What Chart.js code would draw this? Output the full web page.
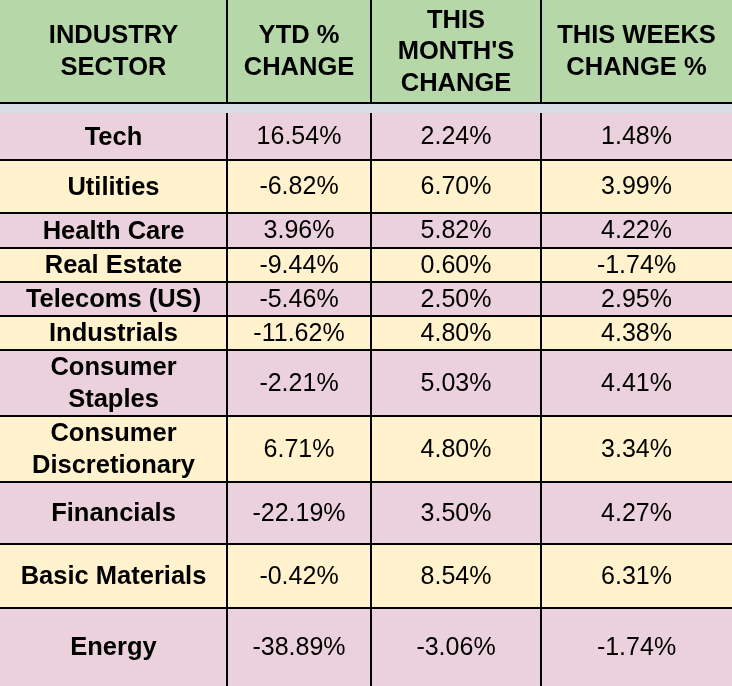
<!DOCTYPE html>
<html>
<head>
<meta charset="utf-8">
<script src="https://cdn.jsdelivr.net/npm/chart.js@4"></script>
<style>
    html, body { margin: 0; padding: 0; background: #ffffff; }
    #sectorTable { display: block; }
</style>
</head>
<body>
<canvas id="sectorTable" width="732" height="686"></canvas>
<script>
// table content
const headers = ['INDUSTRY\nSECTOR', 'YTD %\nCHANGE', "THIS\nMONTH'S\nCHANGE", 'THIS WEEKS\nCHANGE %'];
const sectors = [
    'Tech', 'Utilities', 'Health Care', 'Real Estate', 'Telecoms (US)', 'Industrials',
    'Consumer\nStaples', 'Consumer\nDiscretionary', 'Financials', 'Basic Materials', 'Energy'
];
const ytdChange = [16.54, -6.82, 3.96, -9.44, -5.46, -11.62, -2.21, 6.71, -22.19, -0.42, -38.89];
const monthChange = [2.24, 6.70, 5.82, 0.60, 2.50, 4.80, 5.03, 4.80, 3.50, 8.54, -3.06];
const weekChange = [1.48, 3.99, 4.22, -1.74, 2.95, 4.38, 4.41, 3.34, 4.27, 6.31, -1.74];

// layout (table units)
const colEdges = [0, 227, 371, 541, 732];
const headerBottom = 104;
const rowEdges = [113, 160, 213, 248, 282, 316, 350, 416, 482, 544, 608, 686];

const colors = {
    header: '#b6d7a8',
    band: '#d9dde6',
    pink: '#ead1dc',
    yellow: '#fff2cc',
    line: '#000000',
    text: '#000000'
};

const fontFamily = "'Liberation Sans', Arial, sans-serif";
const boldSize = 25.5;
const plainSize = 25;
const lineHeight = 31.5;

const formatPct = (v) => v.toFixed(2) + '%';

const drawLines = (ctx, text, cx, cy, bold) => {
    const lines = text.split('\n');
    const size = bold ? boldSize : plainSize;
    ctx.font = `${bold ? 'bold ' : ''}${size}px ${fontFamily}`;
    ctx.textAlign = 'center';
    ctx.textBaseline = 'alphabetic';
    ctx.fillStyle = colors.text;
    const cap = size * 0.716;
    const blockH = (lines.length - 1) * lineHeight + cap;
    const firstBase = cy - blockH / 2 + cap;
    lines.forEach((line, i) => {
        ctx.fillText(line, cx, firstBase + i * lineHeight);
    });
};

const tablePlugin = {
    id: 'tableCells',
    afterDraw(chart) {
        const { ctx } = chart;
        const x = chart.scales.x;
        const y = chart.scales.y;
        const px = (v) => x.getPixelForValue(v);
        const py = (v) => y.getPixelForValue(v);
        const left = px(colEdges[0]);
        const right = px(colEdges[colEdges.length - 1]);

        ctx.save();

        // header row
        ctx.fillStyle = colors.header;
        ctx.fillRect(left, py(0), right - left, py(headerBottom) - py(0));
        // thin band below header
        ctx.fillStyle = colors.band;
        ctx.fillRect(left, py(headerBottom), right - left, py(rowEdges[0]) - py(headerBottom));

        // body rows
        const rows = sectors.map((name, i) => [name, formatPct(ytdChange[i]), formatPct(monthChange[i]), formatPct(weekChange[i])]);
        rows.forEach((row, i) => {
            const top = py(rowEdges[i]);
            const bottom = py(rowEdges[i + 1]);
            ctx.fillStyle = i % 2 === 0 ? colors.pink : colors.yellow;
            ctx.fillRect(left, top, right - left, bottom - top);
        });

        // grid lines
        ctx.strokeStyle = colors.line;
        ctx.lineWidth = 2;
        ctx.beginPath();
        colEdges.slice(1, -1).forEach((c) => {
            ctx.moveTo(px(c), py(0));
            ctx.lineTo(px(c), py(headerBottom - 1));
            ctx.moveTo(px(c), py(rowEdges[0]));
            ctx.lineTo(px(c), py(rowEdges[rowEdges.length - 1]));
        });
        ctx.moveTo(left, py(headerBottom - 1));
        ctx.lineTo(right, py(headerBottom - 1));
        rowEdges.slice(1, -1).forEach((r) => {
            ctx.moveTo(left, py(r));
            ctx.lineTo(right, py(r));
        });
        ctx.stroke();

        // header text
        headers.forEach((h, c) => {
            const cx = (px(colEdges[c]) + px(colEdges[c + 1])) / 2;
            drawLines(ctx, h, cx, py(headerBottom / 2) - 2, true);
        });

        // body text
        rows.forEach((row, i) => {
            const cy = (py(rowEdges[i]) + py(rowEdges[i + 1])) / 2;
            row.forEach((cell, c) => {
                const cx = (px(colEdges[c]) + px(colEdges[c + 1])) / 2;
                drawLines(ctx, cell, cx, cy - 1, c === 0);
            });
        });

        ctx.restore();
    }
};

new Chart(document.getElementById('sectorTable'), {
    type: 'scatter',
    data: { datasets: [{ data: [] }] },
    options: {
        responsive: false,
        animation: false,
        devicePixelRatio: 1,
        layout: { padding: 0 },
        scales: {
            x: { type: 'linear', min: colEdges[0], max: colEdges[colEdges.length - 1], display: false },
            y: { type: 'linear', min: 0, max: rowEdges[rowEdges.length - 1], reverse: true, display: false }
        },
        plugins: {
            legend: { display: false },
            tooltip: { enabled: false }
        }
    },
    plugins: [tablePlugin]
});
</script>
</body>
</html>
